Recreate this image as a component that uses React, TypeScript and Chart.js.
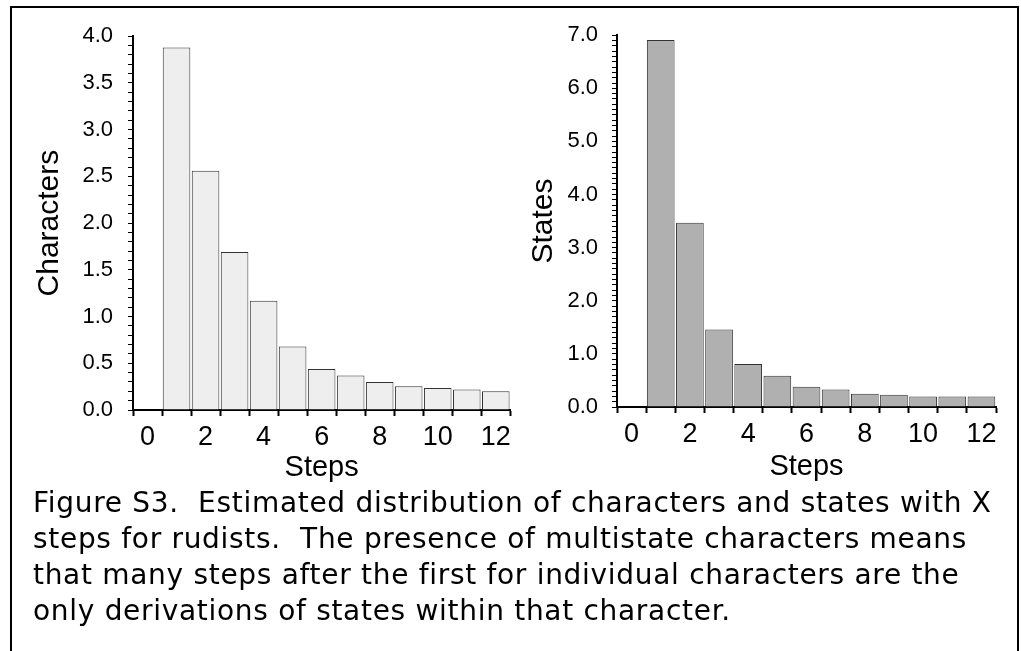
import React, { useEffect, useRef } from "react";
import { Chart, registerables } from "chart.js";

Chart.register(...registerables);

const steps = ["0", "1", "2", "3", "4", "5", "6", "7", "8", "9", "10", "11", "12"];
const characters = [0, 3.88, 2.56, 1.69, 1.17, 0.68, 0.44, 0.37, 0.3, 0.255, 0.235, 0.22, 0.2];
const states = [0, 6.91, 3.47, 1.46, 0.81, 0.59, 0.38, 0.33, 0.25, 0.23, 0.2, 0.2, 0.2];
const charTicks = ["0.0", "0.5", "1.0", "1.5", "2.0", "2.5", "3.0", "3.5", "4.0"];
const stateTicks = ["0.0", "1.0", "2.0", "3.0", "4.0", "5.0", "6.0", "7.0"];
const captionLines = [
  "Figure S3.  Estimated distribution of characters and states with X",
  "steps for rudists.  The presence of multistate characters means",
  "that many steps after the first for individual characters are the",
  "only derivations of states within that character.",
];

const FONT = "'Liberation Sans', Arial, sans-serif";

type Cfg = {
  values: number[];
  max: number;
  majorEvery: number;
  tickLabels: string[];
  title: string;
  fill: string;
  yWidth: number;
  xHeight: number;
  padding: { top: number; right: number; left: number; bottom: number };
  yTitlePad: number;
  yTickPad: number;
  xTitlePad: number;
};

function BarChart({ cfg, style }: { cfg: Cfg; style: React.CSSProperties }) {
  const ref = useRef<HTMLCanvasElement | null>(null);
  useEffect(() => {
    if (!ref.current) return;
    const chart = new Chart(ref.current, {
      type: "bar",
      data: {
        labels: steps,
        datasets: [
          {
            data: cfg.values,
            backgroundColor: cfg.fill,
            borderColor: "#333333",
            borderWidth: 1,
            barPercentage: 0.95,
            categoryPercentage: 1,
          },
        ],
      },
      options: {
        animation: false,
        responsive: false,
        maintainAspectRatio: false,
        layout: { padding: cfg.padding },
        plugins: { legend: { display: false }, tooltip: { enabled: false } },
        scales: {
          x: {
            afterFit: (s: any) => {
              s.height = cfg.xHeight;
            },
            grid: {
              display: true,
              drawOnChartArea: false,
              drawTicks: true,
              tickLength: 6,
              tickColor: "#000",
              tickWidth: 2,
              offset: true,
            },
            border: { display: true, color: "#000", width: 2 },
            ticks: {
              autoSkip: false,
              maxRotation: 0,
              padding: 5,
              color: "#000",
              font: { family: FONT, size: 27 },
              callback: (_v: any, i: number) => (i % 2 === 0 ? steps[i] : ""),
            },
            title: {
              display: true,
              text: "Steps",
              color: "#000",
              font: { family: FONT, size: 29, lineHeight: 1 },
              padding: { top: 0, bottom: cfg.xTitlePad },
            },
          },
          y: {
            min: 0,
            max: cfg.max,
            afterFit: (s: any) => {
              s.width = cfg.yWidth;
            },
            grid: {
              display: true,
              drawOnChartArea: false,
              drawTicks: true,
              tickLength: 5,
              tickColor: "#000",
              tickWidth: 1,
            },
            border: { display: true, color: "#000", width: 2 },
            ticks: {
              stepSize: 0.1,
              autoSkip: false,
              padding: cfg.yTickPad,
              color: "#000",
              font: { family: FONT, size: 22 },
              callback: (v: any) => {
                const k = Math.round(Number(v) * 10);
                if (k % cfg.majorEvery !== 0) return "";
                return cfg.tickLabels[k / cfg.majorEvery] ?? "";
              },
            },
            title: {
              display: true,
              text: cfg.title,
              color: "#000",
              font: { family: FONT, size: 30, lineHeight: 1 },
              padding: { top: cfg.yTitlePad, bottom: 0 },
            },
          },
        },
      },
    });
    return () => chart.destroy();
  }, []);
  return <canvas ref={ref} width={style.width as number} height={style.height as number} style={style} />;
}

export default function App() {
  const left: Cfg = {
    values: characters,
    max: 4,
    majorEvery: 5,
    tickLabels: charTicks,
    title: "Characters",
    fill: "#eeeeee",
    yWidth: 121,
    xHeight: 88,
    padding: { top: 25, right: 5, left: 0, bottom: 0 },
    yTitlePad: 23,
    yTickPad: 15,
    xTitlePad: 16,
  };
  const right: Cfg = {
    values: states,
    max: 7,
    majorEvery: 10,
    tickLabels: stateTicks,
    title: "States",
    fill: "#b0b0b0",
    yWidth: 97,
    xHeight: 91,
    padding: { top: 22, right: 20, left: 0, bottom: 0 },
    yTitlePad: 9,
    yTickPad: 14,
    xTitlePad: 17,
  };
  return (
    <div style={{ position: "fixed", inset: 0, overflow: "hidden", background: "#fff" }}>
      <div
        style={{
          position: "absolute",
          left: 10,
          top: 6,
          width: 1009,
          height: 700,
          boxSizing: "border-box",
          border: "2px solid #000",
        }}
      />
      <BarChart cfg={left} style={{ position: "absolute", left: 12, top: 8, width: 504, height: 490 }} />
      <BarChart cfg={right} style={{ position: "absolute", left: 520, top: 8, width: 496, height: 490 }} />
      <div
        style={{
          position: "absolute",
          left: 33,
          top: 485,
          fontFamily: "'DejaVu Sans', Verdana, sans-serif",
          fontSize: 28,
          letterSpacing: "0.7px",
          lineHeight: "36px",
          color: "#000",
          whiteSpace: "pre",
        }}
      >
        {captionLines.map((l, i) => (
          <div key={i}>{l}</div>
        ))}
      </div>
    </div>
  );
}
